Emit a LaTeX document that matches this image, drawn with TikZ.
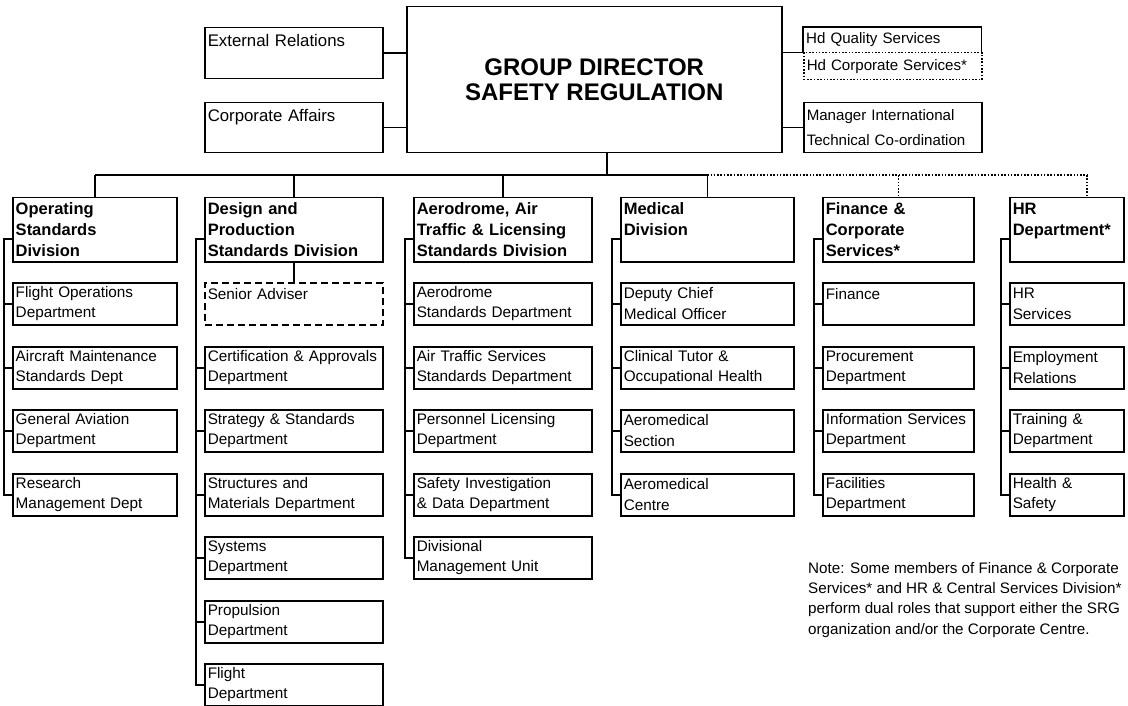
\documentclass[tikz,border=0pt]{standalone}
\usepackage{fontspec}
\setmainfont{Liberation Sans}

\begin{document}
\begin{tikzpicture}[x=1pt, y=-1pt,
	box/.style={draw, line width=1.5pt, anchor=north west, align=left, inner xsep=3pt, inner ysep=0pt},
	topbox/.style={box, text width=172pt, font=\fontsize{16.8}{25}\selectfont},
	rtext/.style={anchor=north west, align=left, inner xsep=3pt, inner ysep=0pt, text width=172pt, font=\fontsize{15.1}{25}\selectfont},
	divbox/.style={box, minimum height=64, font=\bfseries\fontsize{16.5}{21}\selectfont},
	subbox/.style={box, minimum height=42, font=\fontsize{15.3}{20.5}\selectfont},
	link/.style={line width=1.5pt},
	dotline/.style={line width=1.5pt, dash pattern=on 1.6pt off 1.7pt}]
	\useasboundingbox (0,0) rectangle (1128,706);

	% head of the group and its staff
	\node[box, minimum width=375, minimum height=146, align=center, font=\bfseries\fontsize{24}{25}\selectfont] (gd) at (406,6) {GROUP DIRECTOR\\SAFETY REGULATION};
	\node[topbox, minimum height=51] (er) at (204,27) {External Relations\\~};
	\node[topbox, minimum height=50] (ca) at (204,102) {Corporate Affairs\\~};
	\node[rtext, minimum height=25] (hq) at (803,27) {Hd Quality Services};
	\node[rtext, draw, dotline, minimum height=27] (hc) at (803,52) {Hd Corporate Services*};
	\node[rtext, draw, link, minimum height=50] (mi) at (803,102) {Manager International\\Technical Co-ordination};
	\draw[link] (hq.south west) |- (hq.north east) -- (hq.south east);
	\draw[link] (er.east) -- (er.east -| gd.west);
	\draw[link] (ca.east) -- (ca.east -| gd.west);
	\draw[link] (gd.east |- hq.south) -- (hq.south west);
	\draw[link] (gd.east |- mi.west) -- (mi.west);

	% divisions
	\coordinate (bar) at (607,175);
	\coordinate (hrbar) at (1087,175);
	\node[divbox, text width=158pt] (osd) at (12,197) {Operating\\Standards\\Division};
	\node[divbox, text width=172pt] (dps) at (204,197) {Design and\\Production\\Standards Division};
	\node[divbox, text width=172pt] (asd) at (413,197) {Aerodrome, Air\\Traffic \& Licensing\\Standards Division};
	\node[divbox, text width=167pt] (med) at (620,197) {Medical\\Division\\~};
	\node[divbox, text width=145pt] (fcs) at (822,197) {Finance \&\\Corporate\\Services*};
	\node[divbox, text width=108pt] (hrd) at (1009,197) {HR\\Department*\\~};
	\draw[link] (gd.south -| bar) -- (bar);
	\draw[link] (osd.north |- bar) -- (med.north |- bar);
	\draw[link] (osd.north |- bar) -- (osd.north);
	\draw[link] (dps.north |- bar) -- (dps.north);
	\draw[link] (asd.north |- bar) -- (asd.north);
	\draw[link] (med.north |- bar) -- (med.north);
	\draw[dotline] (med.north |- bar) -- (hrbar);
	\draw[dotline] (fcs.north |- bar) -- (fcs.north);
	\draw[dotline] (hrbar) -- (hrbar |- hrd.north);

	% operating standards
	\node[subbox, text width=158pt] (fo) at (12,282) {Flight Operations\\Department};
	\node[subbox, text width=158pt] (am) at (12,346) {Aircraft Maintenance\\Standards Dept};
	\node[subbox, text width=158pt] (ga) at (12,409) {General Aviation\\Department};
	\node[subbox, text width=158pt] (rm) at (12,473) {Research\\Management Dept};
	\draw[link] ([yshift=-9pt]osd.west) -- ++(-8,0) |- (rm.west);
	\draw[link] (fo.west) -- ++(-8,0);
	\draw[link] (am.west) -- ++(-8,0);
	\draw[link] (ga.west) -- ++(-8,0);

	% design and production
	\node[subbox, text width=172pt, dash pattern=on 7pt off 4pt] (sa) at (204,282) {Senior Adviser\\~};
	\node[subbox, text width=172pt] (cap) at (204,346) {Certification \& Approvals\\Department};
	\node[subbox, text width=172pt] (ss) at (204,409) {Strategy \& Standards\\Department};
	\node[subbox, text width=172pt] (sm) at (204,473) {Structures and\\Materials Department};
	\node[subbox, text width=172pt] (sy) at (204,536) {Systems\\Department};
	\node[subbox, text width=172pt] (pr) at (204,600) {Propulsion\\Department};
	\node[subbox, text width=172pt] (fl) at (204,663) {Flight\\Department};
	\draw[link] (dps.south) -- (sa.north);
	\draw[link] ([yshift=-9pt]dps.west) -- ++(-8,0) |- (fl.west);
	\draw[link] (cap.west) -- ++(-8,0);
	\draw[link] (ss.west) -- ++(-8,0);
	\draw[link] (sm.west) -- ++(-8,0);
	\draw[link] (sy.west) -- ++(-8,0);
	\draw[link] (pr.west) -- ++(-8,0);

	% aerodrome, air traffic and licensing
	\node[subbox, text width=172pt] (ad) at (413,282) {Aerodrome\\Standards Department};
	\node[subbox, text width=172pt] (ats) at (413,346) {Air Traffic Services\\Standards Department};
	\node[subbox, text width=172pt] (pl) at (413,409) {Personnel Licensing\\Department};
	\node[subbox, text width=172pt] (si) at (413,473) {Safety Investigation\\\& Data Department};
	\node[subbox, text width=172pt] (dmu) at (413,536) {Divisional\\Management Unit};
	\draw[link] ([yshift=-9pt]asd.west) -- ++(-8,0) |- (dmu.west);
	\draw[link] (ad.west) -- ++(-8,0);
	\draw[link] (ats.west) -- ++(-8,0);
	\draw[link] (pl.west) -- ++(-8,0);
	\draw[link] (si.west) -- ++(-8,0);

	% medical
	\node[subbox, text width=167pt] (dcm) at (620,282) {Deputy Chief\\Medical Officer};
	\node[subbox, text width=167pt] (ct) at (620,346) {Clinical Tutor \&\\Occupational Health};
	\node[subbox, text width=167pt] (ams) at (620,409) {Aeromedical\\Section};
	\node[subbox, text width=167pt] (amc) at (620,473) {Aeromedical\\Centre};
	\draw[link] ([yshift=-9pt]med.west) -- ++(-8,0) |- (amc.west);
	\draw[link] (dcm.west) -- ++(-8,0);
	\draw[link] (ct.west) -- ++(-8,0);
	\draw[link] (ams.west) -- ++(-8,0);

	% finance and corporate services
	\node[subbox, text width=145pt] (fin) at (822,282) {Finance\\~};
	\node[subbox, text width=145pt] (pd) at (822,346) {Procurement\\Department};
	\node[subbox, text width=145pt] (isd) at (822,409) {Information Services\\Department};
	\node[subbox, text width=145pt] (fd) at (822,473) {Facilities\\Department};
	\draw[link] ([yshift=-9pt]fcs.west) -- ++(-8,0) |- (fd.west);
	\draw[link] (fin.west) -- ++(-8,0);
	\draw[link] (pd.west) -- ++(-8,0);
	\draw[link] (isd.west) -- ++(-8,0);

	% hr
	\node[subbox, text width=108pt] (hrs) at (1009,282) {HR\\Services};
	\node[subbox, text width=108pt] (emp) at (1009,346) {Employment\\Relations};
	\node[subbox, text width=108pt] (trd) at (1009,409) {Training \&\\Department};
	\node[subbox, text width=108pt] (hsf) at (1009,473) {Health \&\\Safety};
	\draw[link] ([yshift=-9pt]hrd.west) -- ++(-8,0) |- (hsf.west);
	\draw[link] (hrs.west) -- ++(-8,0);
	\draw[link] (emp.west) -- ++(-8,0);
	\draw[link] (trd.west) -- ++(-8,0);

	\node[anchor=north west, align=left, inner sep=0pt, font=\fontsize{15.2}{20.3}\selectfont] (note) at (808,562) {Note: Some members of Finance \& Corporate\\Services* and HR \& Central Services Division*\\perform dual roles that support either the SRG\\organization and/or the Corporate Centre.};
\end{tikzpicture}
\end{document}
